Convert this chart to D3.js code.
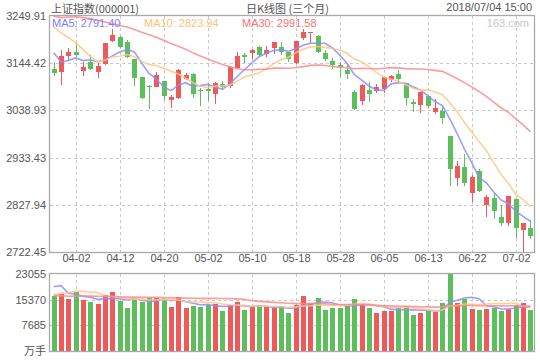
<!DOCTYPE html>
<html><head><meta charset="utf-8">
<script src="https://cdn.jsdelivr.net/npm/d3@7"></script>
<style>
html,body{margin:0;padding:0;background:#fff;}
svg{display:block;font-family:"Liberation Sans",Arial,sans-serif;}
</style></head><body>
<svg id="c" width="540" height="360"></svg>
<script>
// ---------------- data ----------------
const dates = ["03-28","03-29","03-30","04-02","04-03","04-04","04-09","04-10","04-11","04-12","04-13","04-16","04-17","04-18","04-19","04-20","04-23","04-24","04-25","04-26","04-27","05-02","05-03","05-04","05-07","05-08","05-09","05-10","05-11","05-14","05-15","05-16","05-17","05-18","05-21","05-22","05-23","05-24","05-25","05-28","05-29","05-30","05-31","06-01","06-04","06-05","06-06","06-07","06-08","06-11","06-12","06-13","06-14","06-15","06-19","06-20","06-21","06-22","06-25","06-26","06-27","06-28","06-29","07-02","07-03","07-04"];
const open  = [3131.5,3125.5,3161.2,3168.7,3127.7,3146.3,3124.0,3142.6,3194.0,3203.0,3191.0,3153.0,3114.3,3093.0,3092.0,3104.6,3063.0,3066.0,3110.0,3120.3,3083.5,3086.8,3074.8,3097.0,3093.5,3134.4,3163.0,3168.0,3181.4,3164.0,3179.0,3180.0,3170.0,3145.6,3201.4,3211.5,3205.9,3166.5,3149.3,3141.5,3129.0,3080.8,3060.7,3084.5,3083.0,3086.8,3106.9,3119.5,3099.4,3058.4,3051.0,3071.0,3036.0,3037.6,2981.7,2888.6,2911.7,2855.0,2903.5,2827.5,2842.4,2801.4,2786.5,2840.9,2771.6,2775.4];
const high  = [3148.0,3174.0,3178.4,3191.0,3147.8,3162.7,3144.1,3190.5,3220.9,3206.0,3196.3,3153.5,3114.5,3095.7,3125.5,3104.8,3073.3,3131.0,3121.8,3123.2,3089.7,3100.9,3103.0,3104.6,3137.5,3168.7,3166.5,3176.0,3182.0,3183.0,3192.5,3191.0,3170.5,3194.0,3220.2,3215.0,3206.5,3174.0,3156.8,3148.0,3140.0,3084.5,3097.0,3101.6,3098.0,3114.5,3118.0,3129.0,3099.6,3064.4,3080.8,3071.5,3065.0,3048.8,2982.0,2925.8,2941.5,2894.6,2907.0,2849.9,2853.6,2827.5,2847.6,2841.0,2788.0,2794.0];
const low   = [3116.0,3096.0,3151.6,3158.0,3115.8,3129.0,3110.6,3140.4,3192.5,3177.6,3156.8,3094.2,3064.4,3041.3,3090.5,3062.2,3045.0,3064.0,3106.9,3067.4,3049.5,3060.7,3053.2,3084.5,3089.7,3132.2,3144.0,3153.0,3161.0,3159.0,3165.0,3162.7,3148.0,3142.0,3197.0,3189.0,3168.0,3150.0,3130.7,3114.5,3108.5,3040.0,3051.0,3058.4,3077.0,3078.6,3103.0,3103.0,3051.0,3036.0,3032.4,3045.0,3031.0,3007.8,2870.7,2870.7,2870.7,2835.0,2857.0,2801.4,2796.2,2781.3,2780.6,2754.5,2722.45,2751.5];
const close = [3122.29,3160.53,3168.90,3163.18,3136.63,3131.11,3138.29,3190.32,3208.08,3180.16,3159.05,3110.65,3066.80,3091.40,3117.38,3071.54,3068.01,3128.93,3117.97,3075.03,3082.23,3081.18,3100.86,3091.03,3136.65,3161.50,3159.15,3174.41,3163.26,3174.03,3192.12,3169.57,3154.28,3193.30,3213.84,3214.35,3168.96,3154.65,3141.30,3135.08,3120.46,3041.44,3095.47,3075.14,3091.19,3114.21,3115.18,3109.50,3067.15,3052.78,3079.80,3049.80,3044.16,3021.90,2907.82,2915.73,2875.81,2889.76,2859.34,2844.51,2813.18,2786.90,2847.42,2775.56,2786.89,2759.13];
// volume, 万手
const volume = [16467,17066,15660,17665,15270,14671,14072,16766,17665,15060,12974,15660,14671,15868,15868,15660,13174,16168,12974,13573,13273,13673,14172,12075,13873,14771,12375,13273,13373,13074,12774,13273,11477,13873,16567,14472,15970,12375,12974,12974,13473,15660,14072,12974,11477,12075,12075,12974,13573,10879,11477,12075,11777,14472,23055,14472,15660,12675,12375,12675,12974,12075,12675,13873,14472,12375];
// closes / volumes of the 29 sessions before the first one shown (feed the moving averages)
const priorCloses = [3262.05,3129.85,3154.13,3184.96,3199.16,3268.56,3289.02,3329.57,3292.07,3259.41,3273.75,3254.53,3256.93,3289.64,3271.67,3288.41,3307.17,3326.70,3310.24,3291.38,3291.11,3269.88,3279.25,3290.64,3280.95,3263.48,3152.76,3133.72,3166.65];
const priorVolumes = [19800,21500,16200,15600,14300,15900,17800,18600,17100,16400,15200,16800,15900,16300,17200,15800,16100,15400,14900,14560,13200,13900,13311,15400,16539,15571,27130,19160,17982];

const priceTicks = [2722.45,2827.94,2933.43,3038.93,3144.42,3249.91];
const volumeTicks = [0,7685,15370,23055];
const dateTicks = ["04-02","04-12","04-20","05-02","05-10","05-18","05-28","06-05","06-13","06-22","07-02"];
const maPeriods = [5,10,30];
const maNames = ["MA5","MA10","MA30"];
const maLegendValues = ["2791.40","2823.94","2991.58"];
const titleLeft = "上证指数(000001)";
const titleMid = "日K线图 (三个月)";
const titleRight = "2018/07/04 15:00";
const volUnit = "万手";
const watermark = "163.com";

// ---------------- layout ----------------
const L = 50, R = 534, PT = 16, PB = 252, VT = 274, VB = 351;
const RED = "#ee5a5a", GREEN = "#5cbf5c";
const MA_COLORS = ["#8c8cff","#ffc784","#ff8a8a"];
const MA_TEXT = ["#7d7dff","#ffbf73","#ff7070"];
const svg = d3.select("#c");

const x = d3.scaleBand().domain(dates).range([L,R]);
const cx = d => Math.round(x(d) + x.bandwidth()/2);
const yP = d3.scaleLinear().domain([priceTicks[0], priceTicks[priceTicks.length-1]]).range([PB,PT]);
const yV = d3.scaleLinear().domain([0, volumeTicks[volumeTicks.length-1]]).range([VB,VT]);

function movingAvg(series, prior, n){
  const all = prior.concat(series);
  const off = prior.length;
  return series.map((_,i)=>{
    const j = i+off;
    return d3.mean(all.slice(j-n+1, j+1));
  });
}

const g = svg.append("g");
// grids
const dash = "3,3";
const gridC = "#c8c8c8";
priceTicks.slice(1,-1).forEach(t=>{
  g.append("line").attr("x1",L).attr("x2",R).attr("y1",Math.round(yP(t))+0.5).attr("y2",Math.round(yP(t))+0.5)
   .attr("stroke",gridC).attr("stroke-dasharray",dash);
});
volumeTicks.slice(1,-1).forEach(t=>{
  g.append("line").attr("x1",L).attr("x2",R).attr("y1",Math.round(yV(t))+0.5).attr("y2",Math.round(yV(t))+0.5)
   .attr("stroke",gridC).attr("stroke-dasharray",dash);
});
dateTicks.forEach(d=>{
  const xx = cx(d)+0.5;
  g.append("line").attr("x1",xx).attr("x2",xx).attr("y1",PT).attr("y2",PB).attr("stroke",gridC).attr("stroke-dasharray",dash);
  g.append("line").attr("x1",xx).attr("x2",xx).attr("y1",VT).attr("y2",VB).attr("stroke",gridC).attr("stroke-dasharray",dash);
});

// candles
const data = dates.map((d,i)=>({d, o:open[i], h:high[i], l:low[i], c:close[i], v:volume[i]}));
const col = k => k.c >= k.o ? RED : GREEN;
const cg = svg.append("g");
cg.selectAll("line.w").data(data).join("line")
  .attr("x1",k=>cx(k.d)+0.5).attr("x2",k=>cx(k.d)+0.5)
  .attr("y1",k=>Math.round(yP(k.h))).attr("y2",k=>Math.round(yP(k.l)))
  .attr("stroke",col).attr("stroke-width",1).attr("shape-rendering","crispEdges");
cg.selectAll("rect.b").data(data).join("rect")
  .attr("x",k=>cx(k.d)-2).attr("width",5)
  .attr("y",k=>Math.round(yP(Math.max(k.o,k.c))))
  .attr("height",k=>Math.max(1, Math.round(yP(Math.min(k.o,k.c))) - Math.round(yP(Math.max(k.o,k.c)))))
  .attr("fill",col).attr("shape-rendering","crispEdges");

// volume bars
cg.selectAll("rect.v").data(data).join("rect")
  .attr("x",k=>cx(k.d)-2).attr("width",5)
  .attr("y",k=>Math.round(yV(k.v))).attr("height",k=>VB - Math.round(yV(k.v)))
  .attr("fill",col).attr("shape-rendering","crispEdges");

// moving averages
maPeriods.forEach((n,mi)=>{
  const mp = movingAvg(close, priorCloses, n);
  const mv = movingAvg(volume, priorVolumes, n);
  const lp = d3.line().x((v,i)=>x(dates[i])+x.bandwidth()/2).y(v=>yP(v));
  const lv = d3.line().x((v,i)=>x(dates[i])+x.bandwidth()/2).y(v=>yV(v));
  svg.append("path").attr("d",lp(mp)).attr("fill","none").attr("stroke",MA_COLORS[mi]).attr("stroke-width",1.6).attr("stroke-opacity",0.85);
  svg.append("path").attr("d",lv(mv)).attr("fill","none").attr("stroke",MA_COLORS[mi]).attr("stroke-width",1.6).attr("stroke-opacity",0.85);
});

// frames
svg.append("rect").attr("x",L-0.5).attr("y",PT-0.5).attr("width",R-L+1).attr("height",PB-PT+1).attr("fill","none").attr("stroke","#aaa").attr("stroke-width",1.3);
svg.append("rect").attr("x",L-0.5).attr("y",VT-0.5).attr("width",R-L+1).attr("height",VB-VT+1).attr("fill","none").attr("stroke","#aaa").attr("stroke-width",1.3);

// axis labels
const tc = "#555", fs = "11px";
priceTicks.forEach(t=>{
  svg.append("text").attr("x",46).attr("y",yP(t)+4).attr("text-anchor","end").attr("font-size",fs).attr("fill",tc).text(t.toFixed(2));
});
volumeTicks.forEach((t,i)=>{
  svg.append("text").attr("x",46).attr("y",yV(t)+4).attr("text-anchor","end").attr("font-size",fs).attr("fill",tc)
    .attr("font-family", i===0 ? "'Noto Sans CJK SC',sans-serif" : null)
    .text(i===0 ? volUnit : String(t));
});
dateTicks.forEach(d=>{
  svg.append("text").attr("x",cx(d)+0.5).attr("y",262).attr("text-anchor","middle").attr("font-size",fs).attr("fill",tc).text(d);
});

// titles
const cjk = "'Noto Sans CJK SC',sans-serif";
svg.append("text").attr("x",51).attr("y",13).attr("font-size","11px").attr("fill",tc).attr("font-family",cjk).text(titleLeft);
svg.append("text").attr("x",246).attr("y",13).attr("font-size","11px").attr("fill",tc).attr("font-family",cjk).text(titleMid);
svg.append("text").attr("x",532).attr("y",11).attr("text-anchor","end").attr("font-size","11px").attr("fill",tc).text(titleRight);
svg.append("text").attr("x",529).attr("y",27).attr("text-anchor","end").attr("font-size","11px").attr("fill","#c8c8c8").text(watermark);

// legend
const legX = [52,144,242];
maNames.forEach((nm,i)=>{
  svg.append("text").attr("x",legX[i]).attr("y",27).attr("font-size","11px").attr("fill",MA_TEXT[i]).text(nm+": "+maLegendValues[i]);
});
</script>
</body></html>
